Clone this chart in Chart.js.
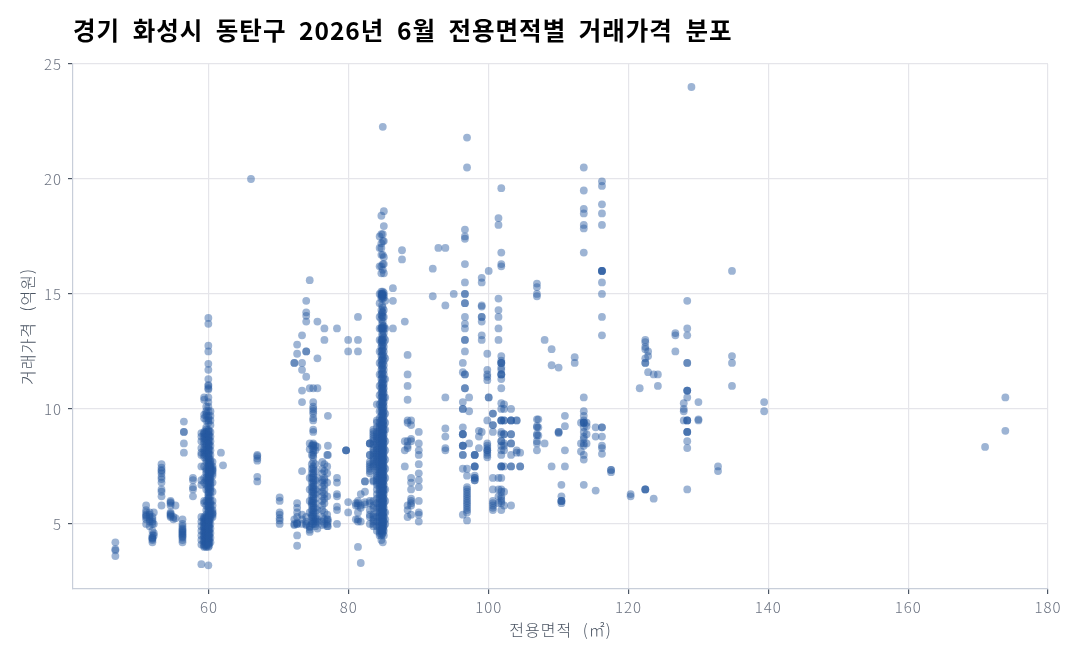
<!DOCTYPE html>
<html lang="ko">
<head>
<meta charset="utf-8">
<style>html,body{margin:0;padding:0;background:#fff}#wrap{width:1080px;height:660px}</style>
<script src="https://cdn.jsdelivr.net/npm/chart.js@4"></script>
</head>
<body>
<div id="wrap"><canvas id="c" width="1080" height="660"></canvas></div>
<script>
const chartTitle = "경기 화성시 동탄구 2026년 6월 전용면적별 거래가격 분포";
const xTitle = "전용면적 (㎡)";
const yTitle = "거래가격 (억원)";

// each entry of colAreas is an exclusive area (㎡), same index in colPrices = deal prices (억원)
const colAreas = [46.6,51,51.5,51.9,52.1,53.2,54.5,54.9,55.2,56.2,56.4,57.7,
 58.9,59.3,59.6,59.9,60.2,60.5,61.7,62,66,66.9,70.1,
 72.2,72.6,73.3,73.9,74.4,74.7,74.9,75.2,75.5,76.2,76.5,76.9,77,78.3,79.6,79.9,81,81.3,81.7,82.3,
 83,83.5,84,84.4,84.65,84.85,85,85.2,84.75,84.9,60,86.3,87.6,88,88.4,88.9,90,
 92,92.8,93.8,95,96.3,96.6,96.9,97.2,98,98.6,99,99.8,100,100.6,101.4,101.8,102.2,103.2,104,104.5,
 106.9,107.1,108,109,110,110.4,110.9,112.3,113.2,113.6,114,115.3,116.2,117.5,120.3,121.6,122.4,122.8,123.6,124.2,126.7,127.9,128.4,129,130,132.8,134.8,139.4,171,173.9];
const colPrices = [
 [4.2,3.9,3.85,3.6],
 [5.8,5.6,5.5,5.4,5.35,5.3,5.2,5.0],
 [5.5,5.4,5.3,5.2,5.1,4.9],
 [5.3,5.2,5.1,5.0,4.7,4.5,4.4,4.4,4.35,4.3,4.2],
 [5.5,5.0,4.6,4.5],
 [7.6,7.45,7.35,7.3,7.2,7.05,6.95,6.8,6.5,6.4,6.2,5.8],
 [6.0,5.95,5.9,5.8,5.5,5.45,5.4,5.35,5.3],
 [5.3,5.2],[5.8,5.25],
 [5.2,5.0,4.9,4.8,4.75,4.7,4.65,4.6,4.55,4.5,4.45,4.4,4.3,4.2],
 [9.45,9.0,9.0,8.5,8.1],
 [7.0,6.9,6.6,6.5,6.2],
 [3.25,8.95,8.8,8.6,8.3,8.1,8.0,7.5,6.9,6.7,5.3,5.1,4.9,4.7,4.5,4.3,4.1],
 [10.5,10.4,9.75,9.6,9.0,8.95,8.9,8.8,8.7,8.6,8.5,8.3,8.2,8.1,8.0,7.9,7.5,7.0,6.8,6.0,5.9,5.3,5.25,5.2,5.1,5.05,5.0,4.9,4.85,4.8,4.7,4.65,4.6,4.5,4.45,4.4,4.3,4.25,4.2,4.1,4.05,4.0],
 [10.1,9.9,9.8,9.7,9.5,9.2,9.1,9.0,8.9,8.8,8.7,8.6,8.5,8.4,8.3,8.2,8.1,8.0,7.8,7.7,7.4,7.3,7.2,7.0,6.9,6.7,6.5,6.0,5.8,5.6,5.4,5.3,5.25,5.2,5.15,5.1,5.05,5.0,4.95,4.9,4.85,4.8,4.75,4.7,4.65,4.6,4.55,4.5,4.45,4.4,4.35,4.3,4.25,4.2,4.15,4.1,4.05,4.0],
 [13.96,13.7,12.75,12.5,11.96,11.7,11.3,11.05,11.0,10.9,10.85,10.5,10.3,10.1,9.9,9.7,9.6,9.5,9.4,9.1,9.0,8.9,8.8,8.7,8.6,8.5,8.4,8.3,8.2,8.1,8.0,7.9,7.8,7.7,7.6,7.5,7.4,7.3,7.2,7.1,7.0,6.9,6.8,6.7,6.6,6.5,6.4,6.3,6.2,6.1,6.0,5.9,5.8,5.7,5.6,5.5,5.4,5.3,5.2,5.15,5.1,5.05,5.0,4.9,4.8,4.7,4.6,4.5,4.4,4.3,4.2,4.1,4.0,3.2],
 [9.9,9.7,9.5,9.3,9.0,8.8,8.6,8.4,8.2,8.0,7.8,7.7,7.6,7.5,7.45,7.4,7.35,7.3,7.25,7.2,7.1,7.0,6.9,6.8,6.7,6.6,6.5,6.4,6.2,6.0,5.9,5.8,5.7,5.6,5.5,5.4,5.3,5.2,5.0,4.8,4.6,4.4,4.2],
 [7.7,7.5,7.4,7.35,7.3,7.2,7.1,6.8,6.4,6.0,5.8,5.6,5.5,5.45,5.4,5.3],
 [8.1],[7.55],[20.0],
 [8.0,7.95,7.85,7.75,7.05,6.85],
 [6.15,6.0,5.5,5.4,5.25,5.15,5.0],
 [12.0,12.0,5.2,5.0,4.95],
 [12.8,12.4,5.9,5.7,5.5,5.3,5.05,5.0,5.0,4.5,4.05],
 [13.2,12.0,11.7,10.8,10.3,7.3,5.4,5.2,5.0],
 [14.7,14.2,14.05,13.8,12.5,12.5,11.4,5.3,5.1,5.0,4.95],
 [15.6,10.9,8.5,8.25,7.0,6.5,6.0,5.5,4.9,4.85,4.75,4.65],
 [8.4,8.0,7.6,7.4,7.2,7.0,6.8,6.6,6.4,6.2,6.0,5.9,5.8,5.6,5.4,5.3,5.1,5.0],
 [10.9,10.3,10.1,10.0,9.9,9.8,9.6,9.5,9.1,9.0,8.5,8.45,8.4,8.3,8.2,8.1,8.0,7.9,7.7,7.5,7.4,7.3,7.2,7.1,7.0,6.9,6.8,6.7,6.6,6.5,6.4,6.3,6.2,6.1,6.0,5.9,5.8,5.7,5.6,5.5,5.4,5.3,5.2,5.1,5.0],
 [8.4,8.2,7.6,7.3,6.9,6.7,6.5,6.3,6.1,5.9,5.7,5.5,5.3,5.2,5.1,5.0,4.9],
 [13.8,12.2,10.9,8.35,7.0,6.4,5.6,5.2,5.1,4.8],
 [7.7,7.4,7.2,6.9,6.8,6.6,6.4,6.2,6.0,5.8,5.6,5.3,5.1,4.95],
 [13.5,13.0,7.6,7.3,7.0,6.9,6.7,6.5,6.3,6.1,5.9,5.5,5.2,5.0],
 [8.0,7.5,7.2,6.8,6.2,5.4,5.2,5.0,4.9],
 [9.7,8.4,8.0,5.2,5.1,4.9],
 [13.5,7.0,6.8,6.3,6.2,5.75,5.6,5.0],
 [8.2,8.2,8.2],
 [13.0,12.5,5.95,5.5],
 [5.9,5.8,5.2],
 [14.0,13.0,12.5,6.0,5.9,5.8,5.5,5.2,5.1,4.0],
 [6.3,5.8,5.7,5.1,3.3],
 [6.85,6.85,6.4,5.95,5.85],
 [8.5,8.5,8.5,8.0,8.0,7.7,7.6,7.5,7.4,7.3,7.2,6.0,5.9,5.6,5.4,5.3,5.0],
 [9.1,9.0,8.9,8.8,8.7,8.6,8.45,8.3,8.2,8.1,8.0,7.9,7.8,7.7,7.6,7.5,6.9,6.85,6.0,5.8,5.7,5.4,5.3,5.2,5.1,5.0,4.9],
 [10.2,9.5,9.4,9.2,9.0,8.9,8.8,8.7,8.6,8.5,8.4,8.3,8.2,8.1,8.0,7.9,7.8,7.7,7.6,7.5,7.4,7.3,7.2,7.1,7.0,6.9,6.8,6.7,6.5,6.3,6.1,5.9,5.7,5.5,5.3,5.1,4.9,4.7],
 [17.5,17.0,16.2,15.0,14.6,14.0,13.5,13.0,12.5,12.0,11.5,11.0,10.6,10.2,9.9,9.6,9.4,9.3,9.2,9.1,9.0,8.9,8.8,8.7,8.6,8.5,8.4,8.3,8.2,8.1,8.0,7.9,7.8,7.7,7.6,7.5,7.4,7.3,7.2,7.1,7.0,6.9,6.8,6.7,6.6,6.5,6.4,6.3,6.2,6.1,6.0,5.9,5.8,5.7,5.6,5.5,5.4,5.3,5.2,5.1,5.0,4.9,4.8,4.7,4.6,4.5],
 [18.4,17.6,17.2,17.0,16.7,16.2,15.9,15.1,15.0,14.9,14.8,14.3,14.1,13.9,13.5,13.5,13.0,12.9,12.7,12.5,12.3,12.1,11.9,11.7,11.5,11.3,11.1,10.9,10.7,10.5,10.3,10.1,9.9,9.7,9.5,9.3,9.1,8.9,8.7,8.5,8.3,8.1,7.9,7.7,7.5,7.3,7.1,6.9,6.7,6.5,6.3,6.1,5.9,5.7,5.5,5.3,5.1,4.9,4.7,4.5,4.3],
 [22.27,17.6,17.3,16.7,16.3,16.05,15.1,15.0,14.9,14.8,14.4,14.2,14.0,13.8,13.6,13.5,13.4,13.2,13.0,12.8,12.6,12.4,12.2,12.0,11.8,11.6,11.4,11.2,11.0,10.8,10.6,10.4,10.2,10.0,9.8,9.6,9.4,9.2,9.0,8.8,8.6,8.4,8.2,8.0,7.8,7.6,7.4,7.2,7.0,6.8,6.6,6.4,6.2,6.0,5.8,5.6,5.4,5.2,5.0,4.8,4.6,4.2],
 [18.6,17.95,17.3,16.6,16.3,15.9,15.05,14.95,14.85,14.3,14.0,13.6,13.5,13.3,13.1,12.9,12.7,12.5,12.3,12.1,11.9,11.7,11.5,11.3,11.1,10.9,10.7,10.5,10.3,10.1,9.9,9.7,9.5,9.3,9.1,8.9,8.7,8.5,8.3,8.1,7.9,7.7,7.5,7.3,7.1,6.9,6.7,6.5,6.3,6.1,5.9,5.7,5.5,5.3,5.1,4.9,4.7,4.5],
 [14.7,13.5,13.0,12.2,11.3,10.5,9.8,9.4,9.1,8.6,8.2,7.8,7.4,7.0,6.5,6.0,5.5,5.2,5.0],
 [15.0,14.95,14.9,14.5,14.2,14.05,13.7,13.55,13.25,13.05,12.95,12.75,12.55,12.35,12.15,11.95,11.75,11.55,11.35,11.15,10.95,10.75,10.55,10.35,10.15,9.95,9.75,9.55,9.35,9.25,9.15,9.05,8.95,8.85,8.75,8.65,8.55,8.45,8.35,8.25,8.15,8.05,7.95,7.85,7.75,7.65,7.55,7.45,7.35,7.25,7.15,7.05,6.95,6.85,6.75,6.65,6.55,6.45,6.35,6.25,6.15,6.05,5.95,5.85,5.75,5.65,5.55,5.45,5.35,5.25,5.15,5.05,4.95,4.85,4.75,4.65,4.55],
 [11.05,10.85,10.65,10.45,10.25,10.05,9.85,9.65,9.45,9.3,9.1,8.95,8.8,8.65,8.5,8.35,8.2,8.05,7.9,7.75,7.6,7.45,7.3,7.15,7.0,6.85,6.7,6.55,6.4,6.25,6.1,5.95,5.8,5.65,5.5,5.35,5.2,5.05,4.9,4.75],
 [9.05,8.85,8.65,8.45,8.25,8.05,7.85,7.65,7.55,7.45,7.35,7.25,7.15,7.05,6.95,6.85,6.75,6.55,6.35,6.15,5.95,5.75,5.55,5.35,5.25,5.15,5.05,4.95,4.85,4.75,4.65,4.55,4.45,4.35,4.25,4.15,4.05],
 [15.25,14.7,13.5],
 [16.9,16.5],
 [13.8,8.6,8.2,7.5],
 [12.35,11.5,11.0,10.4,9.5,9.4,8.6,8.4,8.3,5.8,5.6,5.3],
 [9.5,9.3,8.7,8.6,7.0,6.8,6.5,6.1,6.0,5.9,5.8,5.4],
 [9.0,8.5,8.2,8.0,7.6,7.2,6.9,6.6,6.0,5.5,5.4,5.1],
 [16.1,14.9],[17.0],[17.0,14.5,10.5,9.15,8.8,8.3,8.2],[15.0],
 [12.0,11.6,10.3,10.0,10.0,9.2,8.9,8.9,8.9,8.4,8.4,8.4,8.0,8.0,7.4,5.4],
 [17.8,17.5,17.4,16.3,15.5,15.0,15.0,14.6,14.6,14.0,13.7,13.5,13.0,13.0,12.5,11.5,11.5,10.9,10.9],
 [21.8,20.5,7.4,7.1,6.6,6.5,6.4,6.3,6.2,6.1,6.0,5.9,5.8,5.7,5.6,5.5,5.15],
 [10.5,9.9,8.5],
 [8.0,8.0,8.0,7.5,7.5,7.5,7.1,7.0,7.0,6.9,6.9],
 [9.05,8.8,8.3],
 [15.7,15.5,14.5,14.45,14.0,14.0,13.8,13.2,13.0,9.0],
 [12.4,11.7,11.5,11.4,11.25,9.5,8.5,8.4,8.3,8.2,8.2,8.1,8.0,7.9],
 [16.0,10.5,10.5],
 [9.8,9.8,9.3,9.3,9.0,7.0,6.5,6.0,5.9,5.8,5.7,5.6],
 [18.3,18.0,14.8,14.3,14.0,13.5,13.0,7.0,6.5,6.2,5.9],
 [19.6,16.8,16.3,16.2,12.3,12.1,12.0,12.0,12.0,11.8,11.7,11.5,11.5,11.5,11.3,10.9,10.25,10.0,9.5,9.5,9.5,9.0,8.9,8.6,8.6,8.4,8.2,8.0,7.5,7.5,7.5,7.0,6.5,6.4,6.2,6.1,6.0,5.9,5.6],
 [10.2,10.0,9.5,9.5,8.9,8.9,8.5,8.4,8.2,7.5,6.4,5.8],
 [10.0,9.5,9.5,9.5,8.9,8.9,8.5,8.5,8.0,7.5,7.5,5.8],
 [9.5,9.5,8.2,8.1],[8.1,7.5,7.5],
 [15.45,15.3,15.0,14.9,9.55,9.25,9.2,8.9,8.85,8.6,8.5,8.2],
 [9.55,9.2,8.85],
 [13.0,8.5],[12.6,11.9,7.5],[11.8,9.0,9.0,8.95],
 [6.7,6.2,6.0,6.0,6.0,5.9],[9.7,9.25,8.2,7.5],
 [12.25,12.0],
 [9.4,8.5,8.15],
 [20.5,19.5,18.7,18.5,18.0,17.85,16.8,10.5,9.9,9.7,9.5,9.4,9.4,9.4,9.2,9.0,8.8,8.7,8.5,8.4,8.0,7.8,6.7],
 [9.4,9.25,8.9,8.5],
 [6.45,9.2,8.8],
 [19.9,19.7,18.9,18.5,18.0,16.0,16.0,16.0,16.0,15.5,15.0,14.0,13.2,9.2,9.2,8.8,8.4,8.3,8.05],
 [7.35,7.35,7.25],
 [6.3,6.2],[10.9],
 [13.0,12.9,12.7,12.6,12.2,12.0,12.0,6.5,6.5,6.5],
 [12.5,12.3,11.6],[6.1,11.5],[11.5,11.0],
 [13.3,13.2,12.5],
 [10.25,10.0,9.9,9.5],
 [14.7,13.5,13.2,12.0,12.0,10.8,10.8,10.8,10.5,9.5,9.5,9.5,9.0,9.0,9.0,8.6,8.3,6.5],
 [24.0],
 [10.3,9.55,9.5],
 [7.5,7.3],
 [16.0,12.3,12.0,11.0],
 [10.3,9.9],[8.35],[10.5,9.05]
];

const points = colAreas.flatMap((area, i) => colPrices[i].map(price => ({x: area, y: price})));

const tickFont = { family: '"Noto Sans CJK KR"', size: 15, weight: '300' };
const axisTitleFont = { family: '"Noto Sans CJK KR"', size: 16, weight: '300' };

const textSpacing = { id: 'textSpacing', beforeDraw(chart) {
  chart.ctx.letterSpacing = '1px';
  chart.ctx.wordSpacing = '6px';
} };

new Chart(document.getElementById('c'), {
  type: 'scatter',
  plugins: [textSpacing],
  data: { datasets: [{ data: points, backgroundColor: 'rgba(38,88,160,0.45)', borderWidth: 0, pointRadius: 3.9, pointHoverRadius: 3.9 }] },
  options: {
    responsive: false, animation: false,
    layout: { padding: { left: 18, right: 32, top: 0, bottom: 20 } },
    plugins: {
      legend: { display: false }, tooltip: { enabled: false },
      title: { display: true, text: chartTitle, align: 'start', color: '#000', fullSize: false,
        font: { family: '"Noto Sans CJK KR"', size: 24.5, weight: '700' },
        padding: { top: 16, bottom: 18.6 } }
    },
    scales: {
      x: { type: 'linear', min: 40.54, max: 180,
        afterFit: s => { s.height = 51; },
        title: { display: true, text: xTitle, color: '#4b5563', font: axisTitleFont, padding: { top: 3, bottom: 0 } },
        ticks: { stepSize: 20, includeBounds: false, color: '#6b7280', font: tickFont, maxRotation: 0, padding: 4 },
        grid: { color: '#e5e5ea', lineWidth: 1.2, tickColor: '#4b5563', tickLength: 5 },
        border: { color: '#c8ced9', width: 1.2 } },
      y: { type: 'linear', min: 2.17, max: 25,
        afterFit: s => { s.width = 55; },
        title: { display: true, text: yTitle, color: '#4b5563', font: axisTitleFont, padding: { top: 0, bottom: 3 } },
        ticks: { stepSize: 5, includeBounds: false, callback: v => v, color: '#6b7280', font: tickFont, padding: 6 },
        grid: { color: '#e5e5ea', lineWidth: 1.2, tickColor: '#4b5563', tickLength: 5 },
        border: { color: '#c8ced9', width: 1.2 } }
    }
  }
});
</script>
</body>
</html>
